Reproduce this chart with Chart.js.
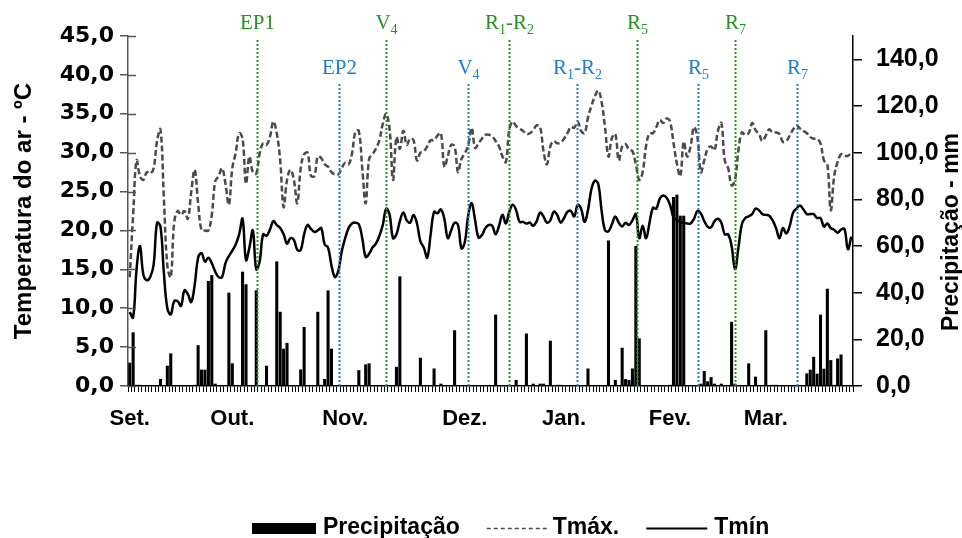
<!DOCTYPE html>
<html>
<head>
<meta charset="utf-8">
<script src="https://cdn.jsdelivr.net/npm/chart.js@4.4.1/dist/chart.umd.min.js"></script>
<style>
  html, body { margin: 0; padding: 0; background: #fff; }
</style>
</head>
<body>
<canvas id="chart" width="962" height="538"></canvas>
<script>
// Daily data, 1 Sep to 31 Mar (212 days)
// ================================================================================
const tmax = [
	14, 22, 29, 27, 26.5, 27.5, 27.3, 28, 31.5, 33,
	24, 15.5, 14, 21, 22.5, 22, 22.5, 21.5, 25, 27.8,
	23.5, 20, 20, 20, 22, 26.3, 27, 28, 26, 23.3,
	28, 30, 32.5, 31.8, 26, 29.5, 27.5, 27.3, 29.9, 31.2,
	31, 32, 34, 32.5, 29, 23, 26.5, 27.8, 26.5, 23.5,
	28, 29.8, 30, 27, 27, 29.5, 29.3, 28.5, 28.2, 27.5,
	27.2, 27.2, 28, 28.7, 28.5, 29.9, 32.7, 32.8, 28, 23.5,
	29.2, 29.8, 30.5, 31.6, 33.7, 35, 33, 26.5, 32, 30.5,
	32.8, 31, 31.8, 31.6, 29, 30, 30.2, 30.8, 31.6, 31.6,
	32.2, 32.5, 28.2, 29.5, 31, 30.8, 27.5, 29.2, 29.9, 31,
	33.2, 30.6, 31.2, 31.8, 32.3, 32.3, 32.1, 31.5, 30.8, 29.5,
	28.8, 33, 34, 33.4, 33.1, 32.8, 32.4, 32.5, 32.9, 33.5,
	33.3, 30.2, 28.5, 30.8, 31.5, 31.2, 31.3, 31.8, 32.5, 33.3,
	33.2, 34, 32.8, 32.5, 34.5, 36, 37.2, 38, 36.5, 33.2,
	29.5, 31.9, 32.4, 29, 30.8, 31.1, 30.4, 30.2, 28.5, 26.5,
	27.5, 30.9, 32.5, 32.5, 33.3, 34.2, 33.8, 34.4, 34, 31.3,
	28.6, 27, 31.4, 29.5, 30.8, 33.3, 32, 27.5, 29, 30.5,
	30.8, 30.3, 32.8, 33.8, 29, 28, 25.8, 26.5, 30.3, 32.6,
	32.3, 32.5, 33.8, 32.9, 32.4, 31.5, 32.2, 33, 32.6, 32.6,
	32.4, 31.4, 31.5, 32.2, 33, 33.5, 33.1, 32.8, 32.5, 32,
	31.8, 31.8, 31.2, 29, 28.5, 22.6, 27, 28.8, 29.8, 29.6,
	29.6, 30
];

const tmin = [
	9.5, 8.8, 15, 18, 14.3, 13.6, 14, 15.6, 21, 20.5,
	14.5, 10, 9.2, 10.9, 10.9, 10.3, 12.3, 11.8, 10.8, 13,
	16.5, 17.1, 16, 16.5, 15.8, 14.7, 14, 14, 15.8, 16.7,
	17.4, 18.2, 19.5, 21.5, 16.2, 17.8, 20, 15, 16, 19.5,
	19.3, 20.1, 21.2, 20.7, 20.3, 19.5, 18.3, 19, 18.8, 17.5,
	17.5, 19.5, 20.7, 20.2, 19.8, 20, 20.3, 18.2, 17.8, 15.5,
	14, 14.8, 17.3, 19, 20.3, 20.9, 21, 20.8, 19, 16.6,
	17, 17.8, 18.3, 19.3, 20.7, 22.8, 22, 19, 19.5, 21.2,
	22.3, 21.3, 21, 22, 20.9, 18.6, 17.8, 16.5, 19.5, 22.4,
	22.2, 22.7, 21.5, 19, 20, 21, 20.7, 17.7, 18.5, 22,
	23.5, 21.3, 19.1, 19.4, 20.3, 20.7, 20.6, 19.5, 20.6, 22,
	20.9, 22.4, 23.3, 22.6, 21.1, 21.1, 20.9, 21, 20.6, 21.2,
	22.3, 21.8, 21, 21.3, 22.4, 22, 21, 21.6, 22.4, 22.5,
	21.8, 23.3, 22.8, 21.1, 22.6, 25.3, 26.4, 26, 22.5, 20,
	19.9, 20.8, 21.8, 21, 20.5, 21, 20.7, 21.3, 22.1, 19,
	20.6, 19, 21, 22.9, 22.8, 24.1, 24.5, 24.2, 23.3, 21.7,
	21.3, 21.1, 21, 20.9, 20.9, 21.5, 22.5, 22.2, 21.2, 20.5,
	20.4, 21.2, 21.5, 21, 19.5, 19.5, 18, 15, 17.8, 20.8,
	21.6, 21.8, 22.1, 22.8, 22.6, 22.1, 22, 21.9, 21.3, 20.3,
	19, 20.3, 19.6, 20.6, 22.3, 22.8, 23.2, 22.7, 22.1, 22.1,
	22.1, 21.6, 21.6, 20.5, 20.9, 20.3, 20.1, 19.7, 20.1, 20.2,
	17.6, 19.2
];

const precip = [
	10, 23, 0.5, 0.5, 0, 0, 0, 0, 0, 3,
	0, 8.7, 14, 0, 0, 0, 0, 0, 0, 0.5,
	17.5, 7, 7, 45, 47.5, 1, 0, 0, 0, 40,
	9.7, 0, 0, 49, 43.6, 0, 0, 41, 0, 0,
	8.7, 0, 0, 53.4, 31.8, 16, 18.5, 0, 0, 0,
	7.1, 25.3, 0, 0, 0, 31.8, 0.5, 3, 41, 16,
	0, 0, 0, 0, 0, 0, 0, 6.8, 0, 9.3,
	9.7, 0, 0, 0, 0, 0, 0, 0, 8.2, 47,
	0, 0, 0, 0, 0, 12.1, 0, 0, 0, 7.5,
	0, 1, 0, 0, 0, 23.9, 0, 0, 0, 0,
	0, 0, 0, 0, 0, 0, 0, 30.6, 0, 0,
	0, 0, 0, 2.6, 0, 0, 22.5, 0, 1, 0,
	1, 1, 0, 19.4, 0, 0.5, 0.5, 0, 0, 0,
	0, 0, 0, 0, 7.5, 0, 0, 0, 0, 0,
	62.4, 0, 2.6, 0, 16.4, 3, 2.6, 7.5, 60, 20.4,
	0, 0, 0, 0, 0, 0, 0, 0, 0.5, 81,
	82, 73, 73, 0, 0, 0, 0, 1, 6.4, 2,
	3.8, 1, 0, 1, 0, 0, 27.5, 1, 0, 0,
	0, 9.7, 0, 4, 0, 0, 23.9, 0, 0.5, 0.5,
	0, 0, 0, 0, 0, 0, 0, 0, 5.4, 7,
	12.5, 5.3, 30.6, 7.4, 41.7, 11.1, 0.5, 11.8, 13.5, 0,
	0, 0
];

// month tick labels and the day they sit on
const months = ["Set.", "Out.", "Nov.", "Dez.", "Jan.", "Fev.", "Mar."];
const monthDays = [0, 30, 63, 98, 127, 158, 186];

// phenological stages (day index), two sowing dates
const stagesA = ["EP1", "V_4", "R_1-R_2", "R_5", "R_7"];
const stageDaysA = [37.1, 75, 111, 148.2, 177];
const stagesB = ["EP2", "V_4", "R_1-R_2", "R_5", "R_7"];
const stageDaysB = [61.1, 98.8, 130.7, 166.1, 195];

let dayLabels = tmax.map((d, i) => {
	let k = monthDays.indexOf(i);
	return k >= 0 ? months[k] : "";
});

const boldFont = "Liberation Sans";
const fmt = v => v.toFixed(1).replace(".", ",");

// Helpers
// ================================================================================
function drawSubText(ctx, spec, cx, cy, color) {
	// "R_1-R_2" -> R, sub 1, -R, sub 2
	let parts = spec.split(/(_\d)/).filter(p => p !== "");
	let main = "21px 'Liberation Serif'", sub = "14px 'Liberation Serif'";
	let w = 0;
	parts.forEach(p => {
		ctx.font = p[0] === "_" ? sub : main;
		w += ctx.measureText(p[0] === "_" ? p.slice(1) : p).width;
	});
	let x = cx - w / 2;
	ctx.fillStyle = color;
	ctx.textAlign = "left";
	ctx.textBaseline = "alphabetic";
	parts.forEach(p => {
		let isSub = p[0] === "_";
		let t = isSub ? p.slice(1) : p;
		ctx.font = isSub ? sub : main;
		ctx.fillText(t, x, cy + 7 + (isSub ? 5 : 0));
		x += ctx.measureText(t).width;
	});
}

const stagesPlugin = {
	id: "stages",
	afterDatasetsDraw(chart) {
		let ctx = chart.ctx, xs = chart.scales.x, area = chart.chartArea;
		let groups = [
			{names: stagesA, days: stageDaysA, color: "#259225", top: 40, labelY: 22},
			{names: stagesB, days: stageDaysB, color: "#1f7ccc", top: 84, labelY: 67}
		];
		ctx.save();
		groups.forEach(g => {
			g.days.forEach((d, i) => {
				let x = Math.round(xs.getPixelForValue(d)) + 0.5;
				ctx.beginPath();
				ctx.setLineDash([2, 2]);
				ctx.lineWidth = 2;
				ctx.strokeStyle = g.color;
				ctx.moveTo(x, g.top);
				ctx.lineTo(x, area.bottom);
				ctx.stroke();
				drawSubText(ctx, g.names[i], x, g.labelY, g.color);
			});
		});
		ctx.restore();
	}
};

const extrasPlugin = {
	id: "extras",
	afterDraw(chart) {
		let ctx = chart.ctx, ys = chart.scales.y, area = chart.chartArea;
		ctx.save();
		// left ticks cross the axis
		ctx.strokeStyle = "#555";
		ctx.lineWidth = 1.5;
		ys.ticks.forEach(t => {
			let y = Math.round(ys.getPixelForValue(t.value)) + 0.5;
			ctx.beginPath();
			ctx.moveTo(area.left, y);
			ctx.lineTo(area.left + 8, y);
			ctx.stroke();
		});
		// right axis title reads bottom to top
		ctx.translate(952, 232);
		ctx.rotate(-Math.PI / 2);
		ctx.fillStyle = "#000";
		ctx.font = "bold 23px '" + boldFont + "'";
		ctx.textAlign = "center";
		ctx.textBaseline = "middle";
		ctx.fillText("Precipitação - mm", 0, 0);
		ctx.restore();

		// legend
		let ds = chart.data.datasets;
		let bar = ds[2], hi = ds[0], lo = ds[1];
		let y = 528, x = 252;
		ctx.save();
		ctx.font = "bold 23px '" + boldFont + "'";
		ctx.textBaseline = "middle";
		ctx.textAlign = "left";
		ctx.fillStyle = bar.backgroundColor;
		ctx.fillRect(x, y - 5, 64, 11);
		x += 71;
		ctx.fillStyle = "#000";
		ctx.fillText(bar.label, x, y);
		x += ctx.measureText(bar.label).width + 27;
		ctx.beginPath();
		ctx.strokeStyle = hi.borderColor;
		ctx.lineWidth = 1.5;
		ctx.setLineDash([4, 3]);
		ctx.moveTo(x, y + 0.5);
		ctx.lineTo(x + 61, y + 0.5);
		ctx.stroke();
		x += 66;
		ctx.fillText(hi.label, x, y);
		x += ctx.measureText(hi.label).width + 27;
		ctx.beginPath();
		ctx.setLineDash([]);
		ctx.strokeStyle = lo.borderColor;
		ctx.lineWidth = 2;
		ctx.moveTo(x, y + 0.5);
		ctx.lineTo(x + 61, y + 0.5);
		ctx.stroke();
		x += 68;
		ctx.fillText(lo.label, x, y);
		ctx.restore();
	}
};

// Chart
// ================================================================================
new Chart(document.getElementById("chart"), {
	data: {
		labels: dayLabels,
		datasets: [
			{
				type: "line", label: "Tmáx.", data: tmax, yAxisID: "y",
				borderColor: "#4a4a4a", borderWidth: 2.5, borderDash: [6, 3],
				pointRadius: 0, tension: 0.4, order: 1
			},
			{
				type: "line", label: "Tmín", data: tmin, yAxisID: "y",
				borderColor: "#000", borderWidth: 2.5,
				pointRadius: 0, tension: 0.4, order: 0
			},
			{
				type: "bar", label: "Precipitação", data: precip, yAxisID: "y1",
				backgroundColor: "#000", categoryPercentage: 1, barPercentage: 0.9, order: 2
			}
		]
	},
	options: {
		responsive: false,
		animation: false,
		layout: {padding: {top: 36, left: 0, right: 0, bottom: 0}},
		plugins: {legend: {display: false}, tooltip: {enabled: false}},
		scales: {
			x: {
				offset: true,
				grid: {drawOnChartArea: false, tickLength: 6, color: "#000", offset: true},
				border: {color: "#000", width: 1.5},
				ticks: {
					autoSkip: false, maxRotation: 0, minRotation: 0, padding: 14, color: "#000",
					font: {family: boldFont, weight: "bold", size: 22}
				},
				afterFit: s => { s.height = 152; }
			},
			y: {
				position: "left", min: 0, max: 45,
				grid: {drawOnChartArea: false, tickLength: 8, color: "#555", lineWidth: 1.5},
				border: {color: "#555", width: 1.5},
				ticks: {
					stepSize: 5, padding: 6, color: "#000", callback: fmt,
					font: {family: "DejaVu Sans", weight: "bold", size: 22}
				},
				title: {
					display: true, text: "Temperatura do ar - ºC", color: "#000",
					font: {family: boldFont, weight: "bold", size: 24}, padding: {top: 10, bottom: 0}
				},
				afterFit: s => { s.width = 128; }
			},
			y1: {
				position: "right", min: 0, max: 150,
				grid: {drawOnChartArea: false, tickLength: 9, color: "#000", lineWidth: 1.5},
				border: {color: "#000", width: 1.5},
				ticks: {
					stepSize: 20, includeBounds: false, padding: 14, color: "#000", callback: fmt,
					font: {family: boldFont, weight: "bold", size: 25}
				},
				afterFit: s => { s.width = 109; }
			}
		}
	},
	plugins: [stagesPlugin, extrasPlugin]
});
</script>
</body>
</html>
